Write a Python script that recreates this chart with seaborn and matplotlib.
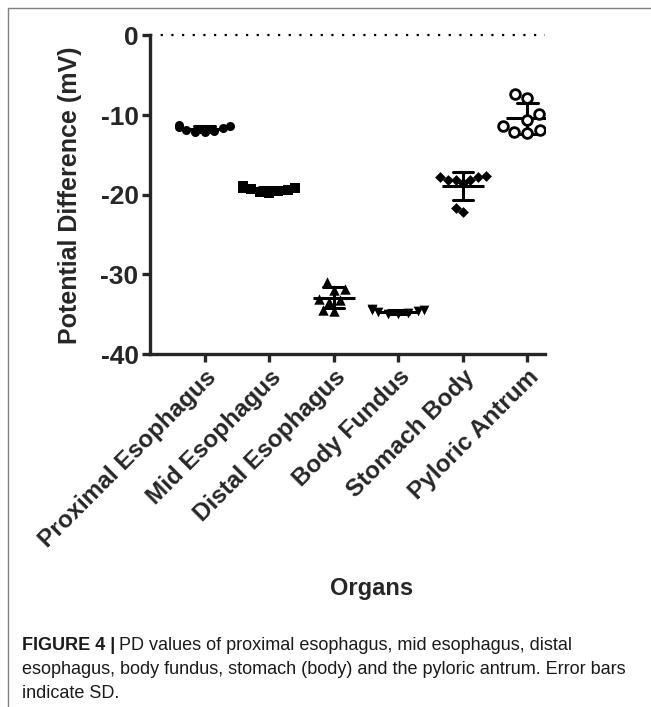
import numpy as np
import pandas as pd
import matplotlib.pyplot as plt
import seaborn as sns
from matplotlib.lines import Line2D

# values (mV)
organs = ['Proximal Esophagus', 'Mid Esophagus', 'Distal Esophagus',
          'Body Fundus', 'Stomach Body', 'Pyloric Antrum']
proximal = [-11.5, -11.3, -11.4, -12.1, -11.6, -12.1, -11.9, -12.0]
mid = [-18.9, -19.1, -19.3, -19.5, -19.6, -19.8, -19.4, -19.2]
distal = [-30.9, -31.9, -31.8, -33.4, -33.2, -34.6, -34.5, -33.1]
fundus = [-34.3, -34.5, -34.7, -34.9, -35.0, -34.6, -34.8, -34.4]
stomach = [-18.1, -17.6, -17.8, -18.5, -18.1, -18.1, -17.8, -22.1, -21.7]
pyloric = [-7.8, -7.4, -9.9, -11.9, -12.2, -12.1, -11.4, -10.6]
yticks = [0, -10, -20, -30, -40]

markers = ['o', 's', '^', 'v', 'D', 'o']
sizes = [6.5, 6.5, 7.5, 7, 5.5, 7]
values = [proximal, mid, distal, fundus, stomach, pyloric]

df = pd.DataFrame({
    'organ': np.repeat(organs, [len(v) for v in values]),
    'pd': np.concatenate(values),
})

sns.set_style('ticks')
plt.rcParams['font.family'] = ['Liberation Sans', 'DejaVu Sans']
plt.rcParams['axes.unicode_minus'] = False

fig, ax = plt.subplots(figsize=(6.51, 7.07), dpi=100)
fig.subplots_adjust(left=0.230, right=0.837, top=0.950, bottom=0.499)

# mean +/- SD
sns.pointplot(data=df, x='organ', y='pd', order=organs, errorbar='sd',
              capsize=0.32, linestyle='none', marker='_', markersize=30,
              markeredgewidth=2.2, color='black',
              err_kws={'linewidth': 2.2}, ax=ax)

# individual points
for organ, m, s in zip(organs, markers, sizes):
    sub = df[df.organ == organ]
    if organ == 'Pyloric Antrum':
        sns.swarmplot(data=sub, x='organ', y='pd', order=organs, marker=m,
                      size=s, color='white', edgecolor='black', linewidth=2,
                      warn_thresh=1, ax=ax)
    else:
        sns.swarmplot(data=sub, x='organ', y='pd', order=organs, marker=m,
                      size=s, color='black', warn_thresh=1, ax=ax)

ax.axhline(0, color='black', linestyle=(0, (1, 3.8)), linewidth=1.6,
           clip_on=False)

ax.set_ylim(-40, 0)
ax.set_yticks(yticks)
ax.set_xlim(-0.85, 5.27)
sns.despine(ax=ax)
for s in ['left', 'bottom']:
    ax.spines[s].set_linewidth(2.4)
ax.tick_params(width=2.4, length=6, labelsize=19, pad=2)
plt.setp(ax.get_yticklabels(), fontweight='bold')
plt.setp(ax.get_xticklabels(), rotation=45, ha='right',
         rotation_mode='anchor', fontweight='bold', fontsize=17.5)

ax.set_ylabel('Potential Difference (mV)', fontsize=18, fontweight='bold',
              labelpad=13)
ax.set_xlabel('Organs', fontsize=17, fontweight='bold')
ax.xaxis.set_label_coords(0.562, -0.70)

# page frame lines
fig.add_artist(Line2D([8 / 651, 1], [1 - 8 / 707, 1 - 8 / 707],
                      transform=fig.transFigure, color='#808080', lw=1))
fig.add_artist(Line2D([8 / 651, 8 / 651], [0, 1 - 8 / 707],
                      transform=fig.transFigure, color='#808080', lw=1))

# caption
cap_font = ['Liberation Sans Narrow', 'Liberation Sans', 'DejaVu Sans']
x0 = 22 / 651
y1 = 1 - 646 / 707
t = fig.text(x0, y1, 'FIGURE 4 |', fontsize=13, fontweight='bold',
             family=cap_font, va='center', color='#1a1a1a')
fig.canvas.draw()
bb = t.get_window_extent(fig.canvas.get_renderer())
fig.text(bb.x1 / fig.bbox.width + 0.006, y1,
         'PD values of proximal esophagus, mid esophagus, distal',
         fontsize=13, family=cap_font, va='center', color='#1a1a1a')
fig.text(x0, 1 - 670 / 707,
         'esophagus, body fundus, stomach (body) and the pyloric antrum. Error bars',
         fontsize=13, family=cap_font, va='center', color='#1a1a1a')
fig.text(x0, 1 - 694 / 707, 'indicate SD.',
         fontsize=13, family=cap_font, va='center', color='#1a1a1a')

fig.savefig('out.png', dpi=100)
